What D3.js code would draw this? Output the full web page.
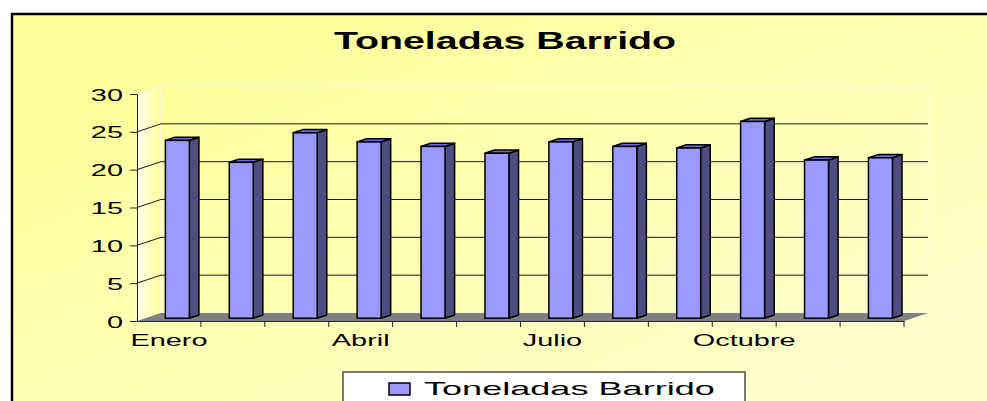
<!DOCTYPE html>
<html>
<head>
<meta charset="utf-8">
<script src="https://cdn.jsdelivr.net/npm/d3@7"></script>
<style>
  body { margin: 0; background: #fff; }
  svg { display: block; font-family: "Liberation Sans", Arial, sans-serif; }
</style>
</head>
<body>
<script>
// Data
const months = ['Enero', 'Febrero', 'Marzo', 'Abril', 'Mayo', 'Junio',
                'Julio', 'Agosto', 'Septiembre', 'Octubre', 'Noviembre', 'Diciembre'];
const toneladas = [23.5, 20.6, 24.5, 23.3, 22.7, 21.8, 23.3, 22.7, 22.5, 26.0, 20.9, 21.2];
const yTicks = [0, 5, 10, 15, 20, 25, 30];
const seriesName = 'Toneladas Barrido';
const chartTitle = 'Toneladas Barrido';

const width = 987;
const height = 401;
const plot = {left: 137, right: 904, top: 94, bottom: 321};
const depth = {dx: 24, dy: -8};            // 3D wall offset
const stretch = 1.7;                       // text is drawn wide in the original

const svg = d3.select('body').append('svg')
  .attr('width', width)
  .attr('height', height);

// Gradients
const defs = svg.append('defs');
const bg = defs.append('linearGradient').attr('id', 'bg')
  .attr('x1', 0).attr('y1', 0).attr('x2', 1).attr('y2', 1);
bg.append('stop').attr('offset', '0.1').attr('stop-color', '#ffff99');
bg.append('stop').attr('offset', '0.85').attr('stop-color', '#ffffcc');

const sideWall = defs.append('linearGradient').attr('id', 'side')
  .attr('x1', 0).attr('y1', 0).attr('x2', 1).attr('y2', 0);
sideWall.append('stop').attr('offset', '0').attr('stop-color', '#ffffee');
sideWall.append('stop').attr('offset', '1').attr('stop-color', '#ffff99');

// Chart area background + border
svg.append('rect')
  .attr('x', 12).attr('y', 14)
  .attr('width', 1000).attr('height', 420)
  .attr('fill', 'url(#bg)')
  .attr('stroke', '#000')
  .attr('stroke-width', 2.5);

// Scales
const xScale = d3.scaleBand()
  .domain(months)
  .range([plot.left, plot.right])
  .paddingInner(0.625)
  .paddingOuter(0.3125);

const yScale = d3.scaleLinear()
  .domain([0, 30])
  .range([plot.bottom, plot.top]);

const step = xScale.step();
const pt = (x, y) => x + ',' + y;

// Side wall (left)
svg.append('polygon')
  .attr('points', [
    pt(plot.left, yScale(30)), pt(plot.left + depth.dx, yScale(30) + depth.dy),
    pt(plot.left + depth.dx, yScale(0) + depth.dy), pt(plot.left, yScale(0))
  ].join(' '))
  .attr('fill', 'url(#side)');

// Back wall outline
svg.append('rect')
  .attr('x', plot.left + depth.dx)
  .attr('y', yScale(30) + depth.dy)
  .attr('width', plot.right - plot.left)
  .attr('height', yScale(0) - yScale(30))
  .attr('fill', 'none')
  .attr('stroke', '#fbfbd2')
  .attr('stroke-width', 1.5);

// Gridlines on back wall + diagonals on side wall
const grid = svg.append('g').classed('grid', true);
grid.selectAll('line.back')
  .data(yTicks.filter(d => d > 0 && d < 30))
  .join('line')
  .classed('back', true)
  .attr('x1', plot.left + depth.dx)
  .attr('x2', plot.right + depth.dx)
  .attr('y1', d => yScale(d) + depth.dy)
  .attr('y2', d => yScale(d) + depth.dy)
  .attr('stroke', '#1a1a1a')
  .attr('stroke-width', 1);
grid.selectAll('line.side')
  .data(yTicks.filter(d => d > 0))
  .join('line')
  .classed('side', true)
  .attr('x1', plot.left)
  .attr('x2', plot.left + depth.dx)
  .attr('y1', d => yScale(d))
  .attr('y2', d => yScale(d) + depth.dy)
  .attr('stroke', d => d === 30 ? '#f4f4d0' : '#1a1a1a')
  .attr('stroke-width', 1);

// Floor
svg.append('polygon')
  .attr('points', [
    pt(plot.left, yScale(0)), pt(plot.right, yScale(0)),
    pt(plot.right + depth.dx, yScale(0) + depth.dy), pt(plot.left + depth.dx, yScale(0) + depth.dy)
  ].join(' '))
  .attr('fill', '#808080');

// Axes
const yAxis = d3.axisLeft(yScale)
  .tickValues(yTicks)
  .tickSize(7)
  .tickSizeOuter(0);
const gy = svg.append('g')
  .classed('axis y', true)
  .attr('transform', 'translate(' + plot.left + ',0)')
  .call(yAxis);
gy.select('.domain').attr('stroke', '#222');
gy.selectAll('.tick line').attr('stroke', '#222');
gy.selectAll('.tick text')
  .attr('x', 0).attr('dy', null)
  .attr('transform', 'translate(-14,6) scale(' + stretch + ',1)')
  .attr('font-size', 17)
  .attr('font-family', '"Liberation Sans", Arial, sans-serif')
  .attr('fill', '#000');

const xAxis = d3.axisBottom(xScale)
  .tickSize(0)
  .tickSizeOuter(0)
  .tickFormat((d, i) => i % 3 === 0 ? d : '');
const gx = svg.append('g')
  .classed('axis x', true)
  .attr('transform', 'translate(0,' + plot.bottom + ')')
  .call(xAxis);
gx.select('.domain').attr('stroke', '#222');
gx.selectAll('.tick text')
  .attr('y', 0).attr('dy', null)
  .attr('transform', 'translate(0,25) scale(' + stretch + ',1)')
  .attr('font-size', 17)
  .attr('font-family', '"Liberation Sans", Arial, sans-serif')
  .attr('fill', '#000');

// Category boundary ticks
gx.selectAll('line.boundary')
  .data(months)
  .join('line')
  .classed('boundary', true)
  .attr('x1', d => xScale(d) + xScale.bandwidth() / 2 + step / 2)
  .attr('x2', d => xScale(d) + xScale.bandwidth() / 2 + step / 2)
  .attr('y1', 0)
  .attr('y2', 6)
  .attr('stroke', '#222');

// Bars (3D boxes)
const f0 = 0.35, f1 = 0.75;               // bar depth position within the floor
const fx = f0 * depth.dx, fy = f0 * depth.dy;
const sx = (f1 - f0) * depth.dx, sy = (f1 - f0) * depth.dy;
const bw = xScale.bandwidth();
const barData = months.map((m, i) => ({month: m, value: toneladas[i]}));

const bars = svg.append('g').classed('bars', true)
  .selectAll('g')
  .data(barData)
  .join('g');

bars.append('polygon')                    // side face
  .attr('points', d => {
    const x = xScale(d.month) + fx + bw, yt = yScale(d.value) + fy, yb = yScale(0) + fy;
    return [pt(x, yt), pt(x + sx, yt + sy), pt(x + sx, yb + sy), pt(x, yb)].join(' ');
  })
  .attr('fill', '#4d4d80')
  .attr('stroke', '#000')
  .attr('stroke-width', 1.5)
  .attr('stroke-linejoin', 'round');

bars.append('polygon')                    // top face
  .attr('points', d => {
    const x = xScale(d.month) + fx, yt = yScale(d.value) + fy;
    return [pt(x, yt), pt(x + bw, yt), pt(x + bw + sx, yt + sy), pt(x + sx, yt + sy)].join(' ');
  })
  .attr('fill', '#6b6bcf')
  .attr('stroke', '#000')
  .attr('stroke-width', 1.5)
  .attr('stroke-linejoin', 'round');

bars.append('rect')                       // front face
  .attr('x', d => xScale(d.month) + fx)
  .attr('y', d => yScale(d.value) + fy)
  .attr('width', bw)
  .attr('height', d => yScale(0) - yScale(d.value))
  .attr('fill', '#9999ff')
  .attr('stroke', '#000')
  .attr('stroke-width', 1.5);

// Title
svg.append('text')
  .attr('transform', 'translate(505,49) scale(1.71,1)')
  .attr('text-anchor', 'middle')
  .attr('font-size', 23)
  .attr('font-weight', 'bold')
  .attr('fill', '#000')
  .text(chartTitle);

// Legend
const legend = svg.append('g').classed('legend', true);
legend.append('rect')
  .attr('x', 343).attr('y', 372)
  .attr('width', 402).attr('height', 50)
  .attr('fill', '#fff')
  .attr('stroke', '#222')
  .attr('stroke-width', 1.2);
legend.append('rect')
  .attr('x', 389).attr('y', 383)
  .attr('width', 21).attr('height', 12)
  .attr('fill', '#9999ff')
  .attr('stroke', '#000')
  .attr('stroke-width', 1.5);
legend.append('text')
  .attr('transform', 'translate(424,395) scale(1.9,1)')
  .attr('font-size', 19)
  .attr('fill', '#000')
  .text(seriesName);
</script>
</body>
</html>
